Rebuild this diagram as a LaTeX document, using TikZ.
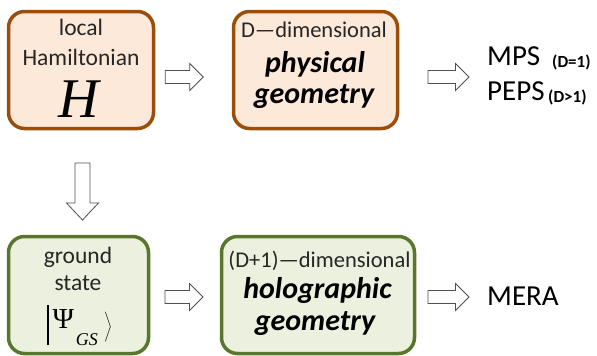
\documentclass[tikz,border=0pt]{standalone}
\usepackage[no-math]{fontspec}
\setmainfont{Carlito}
\newfontfamily\serifH{Liberation Serif}
\usetikzlibrary{calc}
\definecolor{brownb}{RGB}{155,78,12}
\definecolor{peach}{RGB}{253,233,217}
\definecolor{oliveb}{RGB}{88,118,44}
\definecolor{paleg}{RGB}{235,241,222}
\definecolor{arrowgray}{RGB}{80,80,80}
\tikzset{
  box/.style={draw, line width=3.5pt, rounded corners=16pt, inner sep=0pt},
  orangebox/.style={box, draw=brownb, fill=peach},
  greenbox/.style={box, draw=oliveb, fill=paleg},
  lbl/.style={anchor=base, inner sep=0pt, text=black!85},
  rlbl/.style={anchor=base west, inner sep=0pt, text=black},
  small/.style={font=\fontsize{22.5}{26}\selectfont},
  mid/.style={font=\fontsize{23.5}{28}\selectfont},
  big/.style={font=\fontsize{30}{34}\selectfont\bfseries\itshape, text=black},
  side/.style={font=\fontsize{29}{33}\selectfont},
  note/.style={font=\fontsize{17}{20}\selectfont\bfseries},
  blockarrow/.style={draw=arrowgray, fill=white, line width=0.8pt, line join=miter},
  pics/rarrow/.style={code={
    \draw[blockarrow] (0,-6.5) -- (#1-13.5,-6.5) -- (#1-13.5,-13.5) -- (#1,0)
      -- (#1-13.5,13.5) -- (#1-13.5,6.5) -- (0,6.5) -- cycle;}},
  pics/darrow/.style={code={
    \draw[blockarrow] (-7.5,0) -- (-7.5,#1-17) -- (-16,#1-17) -- (0,#1)
      -- (16,#1-17) -- (7.5,#1-17) -- (7.5,0) -- cycle;}}
}
\begin{document}
\begin{tikzpicture}[x=1pt,y=-1pt]
\useasboundingbox (0,0) rectangle (597,356);
% boxes
\node[orangebox, minimum width=145pt, minimum height=117pt] (ham) at (81,70) {};
\node[orangebox, minimum width=164pt, minimum height=117pt] (phys) at (315.5,70) {};
\node[greenbox, minimum width=140pt, minimum height=117pt] (gs) at (78.5,295) {};
\node[greenbox, minimum width=193pt, minimum height=117pt] (holo) at (318,295) {};
% box 1 text
\node[lbl, mid] (t1a) at (81,35) {local};
\node[lbl, mid] (t1b) at (81,65) {Hamiltonian};
\node[lbl, font=\serifH\itshape\fontsize{56}{56}\selectfont, text=black] (t1c) at (79,117) {H};
% box 2 text
\node[lbl, small] (t2a) at (314,37) {D—dimensional};
\node[lbl, big] (t2b) at (315,72) {physical};
\node[lbl, big] (t2c) at (314,103) {geometry};
% box 3 text
\node[lbl, mid] (t3a) at (78,263) {ground};
\node[lbl, mid] (t3b) at (78,290) {state};
\node[lbl, font=\fontsize{29}{29}\selectfont, text=black] (ket) at (79.5,328)
  {\rule[-17pt]{1.8pt}{40pt}\hspace{4pt}{\serifH Ψ}\hspace{2pt}\raisebox{-17pt}{\fontsize{18}{18}\selectfont\serifH\itshape GS}\hspace{5pt}\raisebox{-5pt}{\fontsize{33}{33}\selectfont$\left.\vrule height0.85em depth0.35em width0pt\right\rangle$}};
% box 4 text
\node[lbl, small] (t4a) at (319.5,267) {(D+1)—dimensional};
\node[lbl, big] (t4b) at (317.5,298) {holographic};
\node[lbl, big] (t4c) at (315,330) {geometry};
% right side text
\node[rlbl, side] (mps) at (487,65) {MPS};
\node[rlbl, note] (mpsn) at (552,67) {(D=1)};
\node[rlbl, side] (peps) at (487,100) {PEPS};
\node[rlbl, note] (pepsn) at (548,102) {(D>1)};
\node[rlbl, side] (mera) at (487,305) {MERA};
% block arrows
\pic at ($(ham.east)+(10,7)$) {rarrow=38};
\pic at ($(phys.east)+(28.75,7)$) {rarrow=41};
\pic at ($(gs.east)+(14.75,2)$) {rarrow=38};
\pic at ($(holo.east)+(11.75,2)$) {rarrow=41};
\pic at ($(ham.south)+(1.5,32.75)$) {darrow=57};
\end{tikzpicture}
\end{document}
